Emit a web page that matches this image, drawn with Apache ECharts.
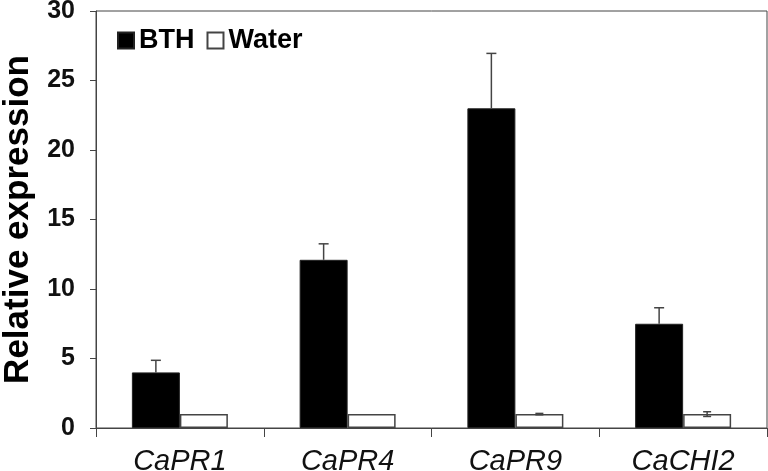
<!DOCTYPE html>
<html>
<head>
<meta charset="utf-8">
<script src="https://cdn.jsdelivr.net/npm/echarts@6/dist/echarts.min.js"></script>
<style>
  html, body { margin: 0; padding: 0; background: #fff; }
  #chart { width: 768px; height: 471px; }
</style>
</head>
<body>
<div id="chart"></div>
<script>
// 基因类别
const genes = ['CaPR1', 'CaPR4', 'CaPR9', 'CaCHI2']
// BTH 处理
const bthValues = [4.0, 12.1, 23.0, 7.5]
const bthErrors = [0.87, 1.15, 3.95, 1.15]
// 水处理（对照）
const waterValues = [1, 1, 1, 1]
const waterErrors = [0, 0, 0.05, 0.17]
const yTicks = [0, 5, 10, 15, 20, 25, 30]

const BAR_W = 48
const LINE_COLOR = '#444'

const chart = echarts.init(document.getElementById('chart'))

// 误差线：BTH 只画向上的一半，水处理画上下两端
function errorData(values, errors, side, upOnly) {
  return values.map((v, i) => [i, v, errors[i], side, upOnly ? 1 : 0])
}

function renderError(params, api) {
  const idx = api.value(0)
  const v = api.value(1)
  const err = api.value(2)
  const side = api.value(3)
  const upOnly = api.value(4)
  if (!err) return
  const base = api.coord([idx, v])
  const x = base[0] + side * BAR_W / 2
  const top = api.coord([idx, v + err])[1]
  const bottom = upOnly ? base[1] : api.coord([idx, v - err])[1]
  const capHalf = upOnly ? 5 : 4
  const style = { stroke: LINE_COLOR, lineWidth: 1.5 }
  const children = [
    { type: 'line', shape: { x1: x, y1: top, x2: x, y2: bottom }, style },
    { type: 'line', shape: { x1: x - capHalf, y1: top, x2: x + capHalf, y2: top }, style }
  ]
  if (!upOnly) {
    children.push({ type: 'line', shape: { x1: x - capHalf, y1: bottom, x2: x + capHalf, y2: bottom }, style })
  }
  return { type: 'group', children }
}

const option = {
  animation: false,
  textStyle: { fontFamily: 'Liberation Sans, Arial, sans-serif' },
  grid: {
    left: 96,
    right: 1,
    top: 11,
    bottom: 43,
    outerBoundsMode: 'none',
    show: true,
    borderColor: LINE_COLOR,
    borderWidth: 1
  },
  legend: {
    left: 112,
    top: 22,
    itemWidth: 16,
    itemHeight: 16,
    itemGap: 12,
    icon: 'rect',
    data: ['BTH', 'Water'],
    textStyle: { fontSize: 27, fontWeight: 'bold', color: '#000' }
  },
  xAxis: {
    type: 'category',
    data: genes,
    axisLine: { lineStyle: { color: LINE_COLOR, width: 1 } },
    axisTick: { show: true, length: 9, lineStyle: { color: LINE_COLOR } },
    axisLabel: {
      margin: 19,
      fontSize: 29,
      fontStyle: 'italic',
      color: '#111'
    }
  },
  yAxis: {
    type: 'value',
    min: yTicks[0],
    max: yTicks[yTicks.length - 1],
    interval: 5,
    name: 'Relative expression',
    nameLocation: 'middle',
    nameGap: 59,
    nameTextStyle: { fontSize: 35, fontWeight: 'bold', color: '#000' },
    splitLine: { show: false },
    axisLine: { show: true, lineStyle: { color: LINE_COLOR, width: 1 } },
    axisTick: { show: true, length: 6, lineStyle: { color: LINE_COLOR } },
    axisLabel: { margin: 21, fontSize: 25, fontWeight: 'bold', color: '#111' }
  },
  series: [
    {
      name: 'BTH',
      type: 'bar',
      data: bthValues,
      barWidth: BAR_W,
      barGap: '0%',
      itemStyle: { color: '#000', borderColor: '#222', borderWidth: 1 }
    },
    {
      name: 'Water',
      type: 'bar',
      data: waterValues,
      barWidth: BAR_W,
      barGap: '0%',
      itemStyle: { color: '#fff', borderColor: LINE_COLOR, borderWidth: 1.5 }
    },
    {
      type: 'custom',
      renderItem: renderError,
      data: errorData(bthValues, bthErrors, -1, true),
      z: 5
    },
    {
      type: 'custom',
      renderItem: renderError,
      data: errorData(waterValues, waterErrors, 1, false),
      z: 5
    }
  ]
}

chart.setOption(option)
</script>
</body>
</html>
